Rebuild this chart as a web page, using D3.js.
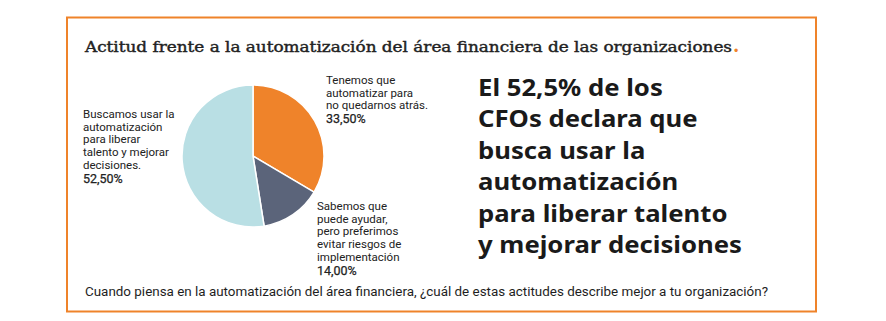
<!DOCTYPE html>
<html>
<head>
<meta charset="utf-8">
<script src="https://cdn.jsdelivr.net/npm/d3@7"></script>
<style>
  body { margin: 0; background: #fff; }
  svg { display: block; }
</style>
</head>
<body>
<div class="chart"></div>
<script>
// data
const categories = ["Tenemos que automatizar", "Sabemos que puede ayudar", "Buscamos usar la automatización"]
const values = [33.5, 14.0, 52.5]
const labelLines = [
    ["Tenemos que", "automatizar para", "no quedarnos atrás."],
    ["Sabemos que", "puede ayudar,", "pero preferimos", "evitar riesgos de", "implementación"],
    ["Buscamos usar la", "automatización", "para liberar", "talento y mejorar", "decisiones."]
]
const percentLabels = ["33,50%", "14,00%", "52,50%"]
const title = "Actitud frente a la automatización del área financiera de las organizaciones"
const headline = ["El 52,5% de los", "CFOs declara que", "busca usar la", "automatización", "para liberar talento", "y mejorar decisiones"]
const question = "Cuando piensa en la automatización del área financiera, ¿cuál de estas actitudes describe mejor a tu organización?"

const width = 886, height = 321
const colors = ["#EF832A", "#5B647A", "#B9DFE4"]
const orange = "#EF832A"

const svg = d3.select(".chart").append("svg")
    .attr("width", width)
    .attr("height", height)

// frame
svg.append("rect")
    .attr("x", 67).attr("y", 17.5)
    .attr("width", 749).attr("height", 294)
    .attr("fill", "none")
    .attr("stroke", orange)
    .attr("stroke-width", 2)

// title (medium weight: regular glyphs with a thin outline)
svg.append("text")
    .attr("x", 85).attr("y", 52)
    .attr("font-family", "'DejaVu Serif Condensed', 'DejaVu Serif', serif")
    .attr("font-size", 15.5)
    .attr("fill", "#222")
    .attr("stroke", "#222")
    .attr("stroke-width", 0.4)
    .attr("textLength", 647)
    .attr("lengthAdjust", "spacingAndGlyphs")
    .text(title)
svg.append("text")
    .attr("x", 733).attr("y", 52)
    .attr("font-family", "'DejaVu Serif', serif")
    .attr("font-size", 18)
    .attr("font-weight", "bold")
    .attr("fill", orange)
    .text(".")

// pie
const cx = 253, cy = 156, radius = 71
const pie = d3.pie().sort(null).value(d => d)
const arc = d3.arc().innerRadius(0).outerRadius(radius)

const g = svg.append("g").attr("transform", `translate(${cx},${cy})`)
g.selectAll("path")
    .data(pie(values))
    .join("path")
    .attr("d", arc)
    .attr("fill", (d, i) => colors[i])
    .attr("stroke", "#fff")
    .attr("stroke-width", 1.5)

// labels
const labelPos = [
    { x: 326, y: 84 },
    { x: 317, y: 210 },
    { x: 83, y: 118 }
]
const lineH = 12.7
labelPos.forEach((p, i) => {
    const t = svg.append("text")
        .attr("font-family", "Roboto, sans-serif")
        .attr("font-size", 11.5)
        .attr("fill", "#222")
    labelLines[i].forEach((line, j) => {
        t.append("tspan").attr("x", p.x).attr("y", p.y + j * lineH).text(line)
    })
    t.append("tspan")
        .attr("x", p.x)
        .attr("y", p.y + labelLines[i].length * lineH + 1)
        .attr("font-size", 12.5)
        .attr("stroke", "#222")
        .attr("stroke-width", 0.25)
        .text(percentLabels[i])
})

// headline, stretched so the widest line spans like the reference
const hl = svg.append("g")
    .attr("font-family", "'Noto Sans', sans-serif")
    .attr("font-weight", "bold")
    .attr("font-size", 22.5)
    .attr("fill", "#1a1a1a")
const hlLines = hl.selectAll("text")
    .data(headline)
    .join("text")
    .attr("x", 478)
    .attr("y", (d, j) => 96 + j * 31.4)
    .text(d => d)
const lastW = hlLines.nodes()[headline.length - 1].getComputedTextLength()
const k = 264 / lastW
hlLines.each(function () {
    d3.select(this)
        .attr("textLength", this.getComputedTextLength() * k)
        .attr("lengthAdjust", "spacingAndGlyphs")
})

// question
svg.append("text")
    .attr("x", 85).attr("y", 296)
    .attr("font-family", "Roboto, sans-serif")
    .attr("font-size", 12.5)
    .attr("fill", "#1e1e1e")
    .attr("textLength", 683)
    .attr("lengthAdjust", "spacingAndGlyphs")
    .text(question)
</script>
</body>
</html>
